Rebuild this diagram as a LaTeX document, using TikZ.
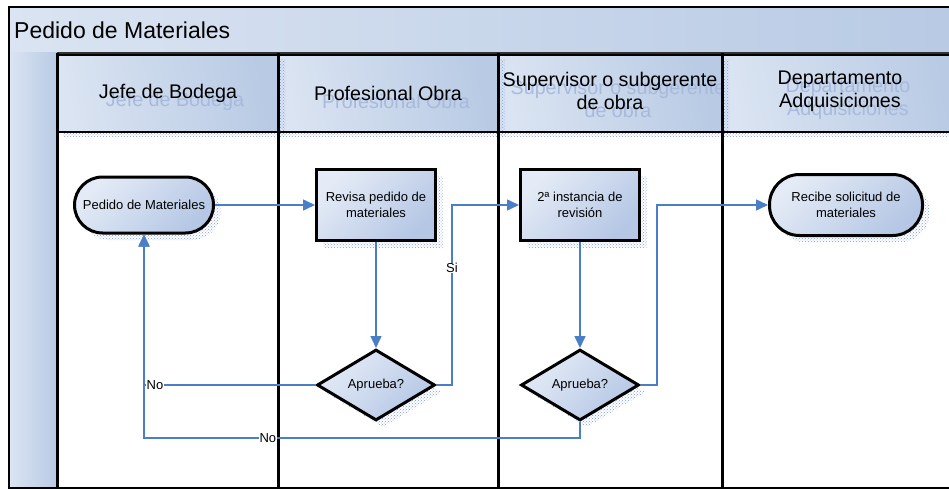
\documentclass[tikz,border=0pt]{standalone}
\usepackage{fontspec}
\setmainfont{Liberation Sans}
\usetikzlibrary{shapes.geometric,arrows.meta,shadows,patterns}

\definecolor{flowblue}{HTML}{4A7EC7}
\definecolor{paleA}{HTML}{E4EBF6}
\definecolor{paleB}{HTML}{B5C7E5}
\definecolor{bandA}{HTML}{DAE4F2}
\definecolor{bandB}{HTML}{B8CAE4}
\definecolor{shadowdot}{HTML}{7F9DD6}
\definecolor{ghost}{HTML}{A8BADC}
\definecolor{rim}{HTML}{333333}

\begin{document}
\begin{tikzpicture}[x=1pt,y=-1pt,
  bluefill/.style={top color=paleA, bottom color=paleB, shading angle=45},
  bandfill/.style={left color=bandA, right color=bandB},
  headfill/.style={left color=bandA, right color=bandB, shading angle=100},
  dotshadow/.style={general shadow={shadow xshift=7pt, shadow yshift=-7pt,
      pattern=crosshatch dots, pattern color=shadowdot}},
  dotstrip/.style={pattern=crosshatch dots, pattern color=shadowdot},
  lanerule/.style={line width=3pt, black},
  hdtext/.style={font=\fontsize{19.7}{23}\selectfont, align=center, inner sep=0pt, text=black},
  hdghost/.style={hdtext, text=ghost},
  nodetext/.style={font=\fontsize{13}{16}\selectfont, align=center, text=black},
  procbox/.style={rectangle, draw=black, line width=3pt, bluefill, dotshadow,
      nodetext, minimum width=119pt, minimum height=71pt, inner sep=2pt},
  termbox/.style={rectangle, rounded corners=28pt, draw=black, line width=3pt,
      bluefill, dotshadow, nodetext, inner sep=2pt},
  decbox/.style={diamond, draw=black, line width=3pt, bluefill, dotshadow,
      nodetext, inner sep=0pt, minimum width=118pt, minimum height=71pt, aspect=1.66},
  flow/.style={draw=flowblue, line width=1.5pt, -{Triangle[length=12pt,width=11pt]}},
  lbl/.style={fill=white, inner sep=0.5pt, font=\fontsize{13}{15}\selectfont, text=black}
]
\useasboundingbox (0,0) rectangle (949,489);
\clip (0,0) rectangle (949,489);
\fill[white] (0,0) rectangle (949,489);

% pool title bar and left band
\shade[left color=bandA, right color=bandB] (9,7) rectangle (960,55);
\draw[rim, line width=1.2pt] (9,53) -- (960,53);
\node[anchor=west, inner sep=0pt, font=\fontsize{23}{27}\selectfont] (title) at (14,30) {Pedido de Materiales};
\shade[bandfill] (10,53) rectangle (57,488);

% lane headers
\shade[headfill] (58,55) rectangle (277,132);
\shade[headfill] (279,55) rectangle (497,132);
\shade[headfill] (499,55) rectangle (721,132);
\shade[headfill] (723,55) rectangle (960,132);

% header drop shadows
\fill[dotstrip] (63,132) rectangle (960,137);
\fill[dotstrip] (279,60) rectangle (285,137);
\fill[dotstrip] (499,60) rectangle (505,137);
\fill[dotstrip] (723,60) rectangle (729,137);

% header borders
\draw[black, line width=2pt] (57,55) -- (960,55);
\draw[black, line width=2.5pt] (57,132) -- (960,132);

% header titles (with their soft echo)
\node[hdghost] (g1) at (175,101) {Jefe de Bodega};
\node[hdtext] (h1) at (168,93) {Jefe de Bodega};
\node[hdghost] (g2) at (396,101) {Profesional Obra};
\node[hdtext] (h2) at (388,93) {Profesional Obra};
\node[hdghost] (g3) at (618,99) {Supervisor o subgerente\\de obra};
\node[hdtext] (h3) at (610,91) {Supervisor o subgerente\\de obra};
\node[hdghost] (g4) at (848,99) {Departamento\\Adquisiciones};
\node[hdtext] (h4) at (840,91) {Departamento\\Adquisiciones};

% lane rules and outer frame
\draw[lanerule] (57,53) -- (57,488);
\draw[lanerule] (278,53) -- (278,488);
\draw[lanerule] (498,53) -- (498,488);
\draw[lanerule] (722,53) -- (722,488);
\draw[black, line width=2pt] (960,7) -- (9,7) -- (9,488) -- (960,488);

% flow shapes
\node[termbox, minimum width=139pt, minimum height=56pt] (t1) at (144,205) {Pedido de Materiales};
\node[procbox] (r1) at (376,205) {Revisa pedido de\\materiales};
\node[decbox] (d1) at (376,385) {Aprueba?};
\node[procbox] (r2) at (580,205) {2ª instancia de\\revisión};
\node[decbox] (d2) at (580,385) {Aprueba?};
\node[termbox, minimum width=153pt, minimum height=61pt, rounded corners=30pt] (t2) at (846,205) {Recibe solicitud de\\materiales};

% connectors
\coordinate (siturn) at (452,385);
\coordinate (noturn) at (144,385);
\coordinate (nobottom) at (144,438);
\coordinate (okturn) at (657,385);

\draw[flow] (t1.east) -- (r1.west);
\draw[flow] (r1.south) -- (d1.north);
\draw[flow] (r2.south) -- (d2.north);
\draw[flow] (d1.east) -- (siturn) |- node[lbl, pos=0.325] (si) {Si} (r2.west);
\draw[flow] (d2.east) -- (okturn) |- (t2.west);
\draw[flow] (d2.south) |- node[lbl, pos=0.858] (no2) {No} (nobottom) -- (t1.south);
\draw[flow] (d1.west) -- node[lbl, pos=0.936] (no1) {No} (noturn) -- (t1.south);
\end{tikzpicture}
\end{document}
